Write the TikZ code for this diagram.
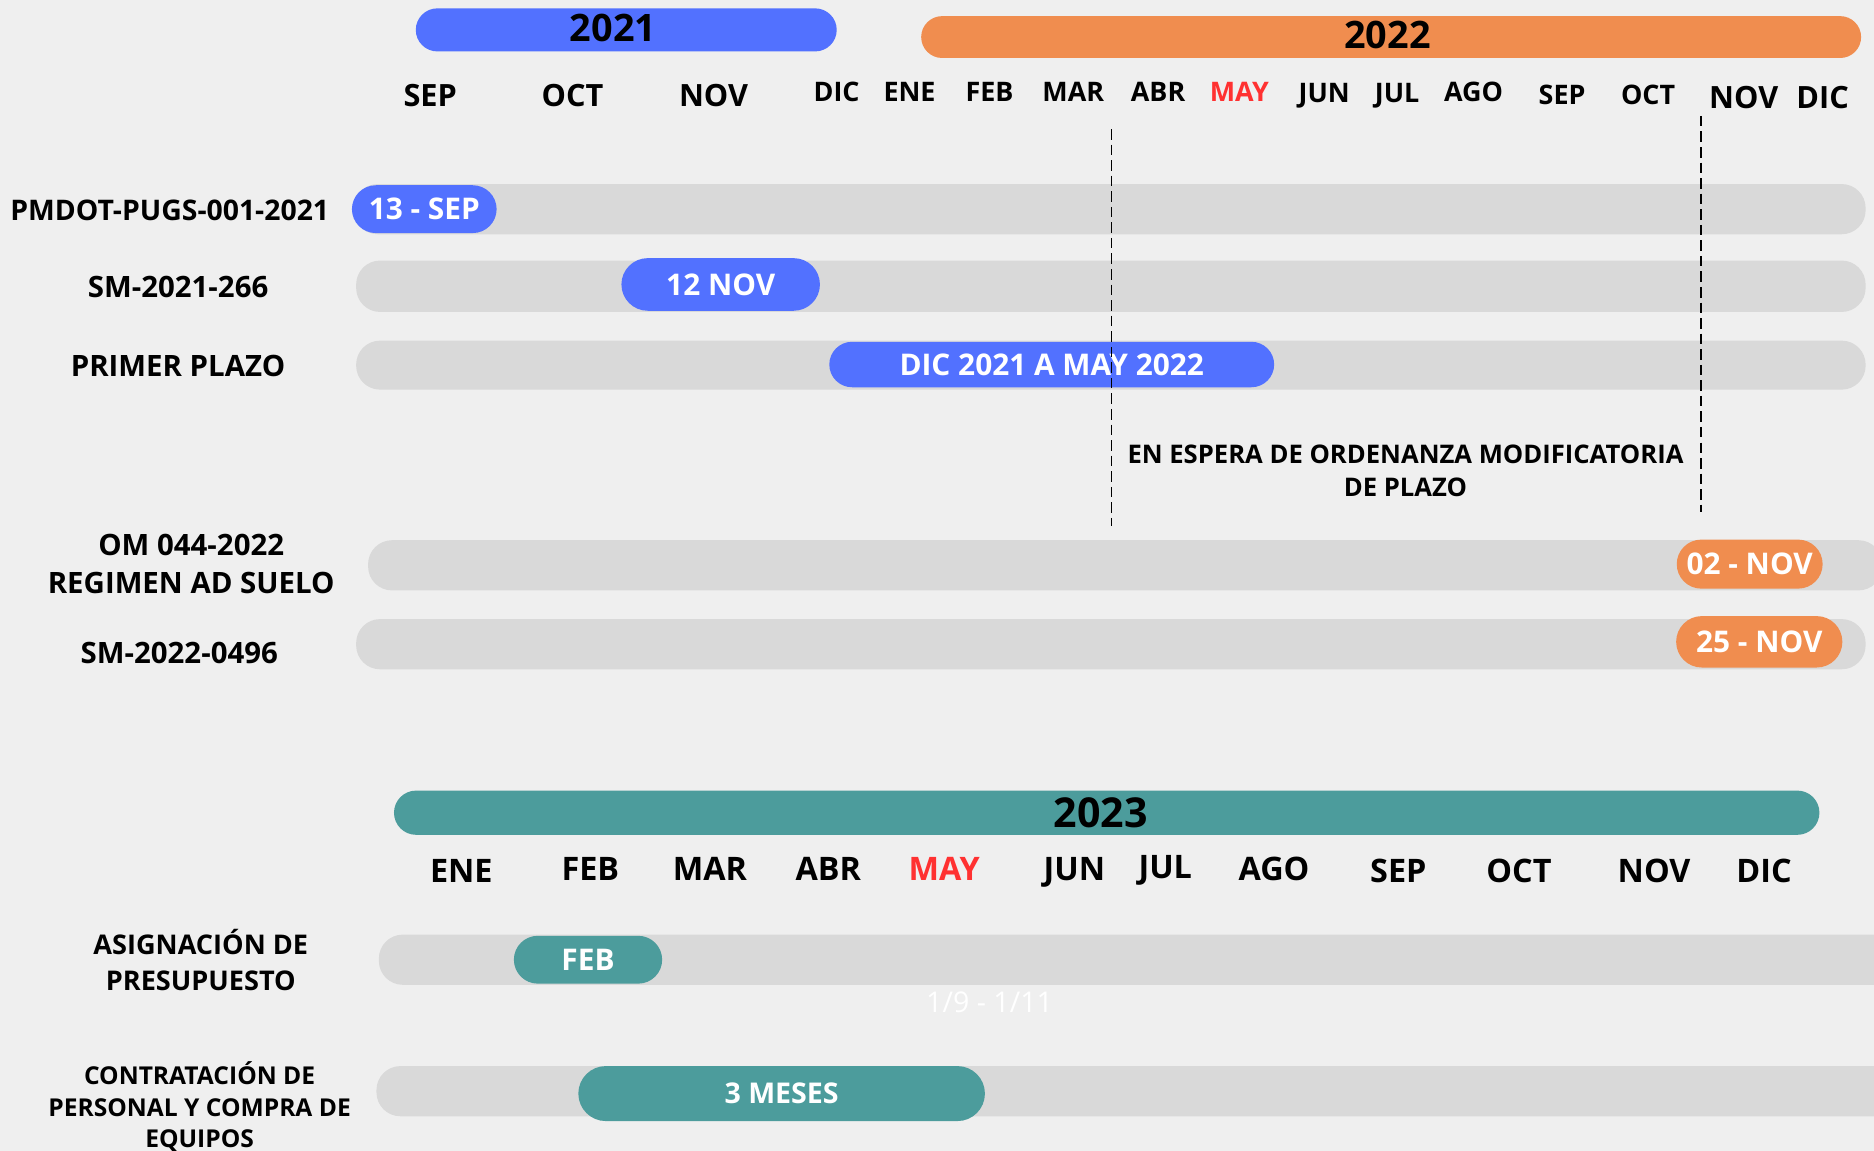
\documentclass[tikz,border=0pt]{standalone}
\usepackage{fontspec}
\setmainfont{Open Sans}
\usetikzlibrary{shapes.misc}

\definecolor{paper}{HTML}{EFEFEF}
\definecolor{yrblue}{HTML}{5271FF}
\definecolor{yrorange}{HTML}{F08D4F}
\definecolor{yrteal}{HTML}{4C9C9C}
\definecolor{trackgray}{HTML}{D9D9D9}
\definecolor{mayred}{HTML}{FF3131}

\tikzset{
  track/.style={fill=trackgray, rounded corners=0.2cm},
  pill/.style={rounded rectangle, inner sep=0pt, text=white, font=\bfseries\fontsize{7.1}{8}\selectfont},
  yearbar/.style={rounded rectangle, inner sep=0pt},
  yeartext/.style={font=\bfseries\fontsize{9}{10}\selectfont},
  month/.style={font=\bfseries\fontsize{6.4}{7}\selectfont},
  bigmonth/.style={font=\bfseries\fontsize{7.3}{8}\selectfont},
  rowlabel/.style={align=center, font=\bfseries\fontsize{7}{9.2}\selectfont},
  note/.style={align=center, font=\bfseries\fontsize{6.1}{8}\selectfont}
}

\begin{document}
\begin{tikzpicture}[x=0.01cm,y=-0.01cm]
\useasboundingbox (0,0) rectangle (1568,963);
\fill[paper] (0,0) rectangle (1568,963);

% Years
\node[yearbar, fill=yrblue, minimum width=3.52cm, minimum height=0.36cm] (y2021) at (524,25) {};
\node[yearbar, fill=yrorange, minimum width=7.86cm, minimum height=0.35cm] (y2022) at (1164,31) {};
\node[yearbar, fill=yrteal, minimum width=11.92cm, minimum height=0.37cm] (y2023) at (926,680) {};
\node[yeartext] (t2021) at (513,23) {2021};
\node[yeartext] (t2022) at (1161,29) {2022};
\node[yeartext, font=\bfseries\fontsize{9.8}{10}\selectfont] (t2023) at (921,680) {2023};

% Months 2021-2022
\foreach \x/\y/\m [count=\i] in {360/80/SEP,479/80/OCT,597/80/NOV,1459/82/NOV,1525/82/DIC}
  \node[bigmonth] (ma\i) at (\x,\y) {\m};
\foreach \x/\y/\m [count=\i] in {700/77/DIC,761/77/ENE,828/77/FEB,898/77/MAR,969/77/ABR,1108/80/JUN,1169/80/JUL,1233/77/AGO,1307/79/SEP,1379/79/OCT}
  \node[month] (mb\i) at (\x,\y) {\m};
\node[month, text=mayred] (mayA) at (1037,77) {MAY};

% Months 2023
\foreach \x/\y/\m [count=\i] in {386/729/ENE,494/727/FEB,594/727/MAR,693/727/ABR,899/730/JUN,975/728/JUL,1066/727/AGO,1170/729/SEP,1271/729/OCT,1384/729/NOV,1476/729/DIC}
  \node[bigmonth, font=\bfseries\fontsize{7.7}{8}\selectfont] (mc\i) at (\x,\y) {\m};
\node[bigmonth, font=\bfseries\fontsize{7.7}{8}\selectfont, text=mayred] (mayB) at (790,727) {MAY};

% Tracks
\begin{scope}
\clip (0,0) rectangle (1568,963);
\fill[track] (296,154) rectangle (1561,196);
\fill[track] (298,218) rectangle (1561,261);
\fill[track] (298,285) rectangle (1561,326);
\fill[track] (308,452) rectangle (1575,494);
\fill[track] (298,518) rectangle (1561,560);
\fill[track] (317,782) rectangle (1600,824);
\fill[track] (315,892) rectangle (1600,934);
\end{scope}

% Row labels
\node[rowlabel, font=\bfseries\fontsize{6.75}{8}\selectfont] (pmdot) at (142,176) {PMDOT-PUGS-001-2021};
\node[rowlabel] (sm266) at (149,240) {SM-2021-266};
\node[rowlabel] (plazo) at (149,306) {PRIMER PLAZO};
\node[rowlabel] (om044) at (160,472) {OM 044-2022\\REGIMEN AD SUELO};
\node[rowlabel] (sm0496) at (150,546) {SM-2022-0496};
\node[rowlabel, font=\bfseries\fontsize{6.45}{8.5}\selectfont] (presu) at (168,803) {ASIGNACIÓN DE\\PRESUPUESTO};
\node[rowlabel, font=\bfseries\fontsize{5.85}{7.5}\selectfont] (contra) at (167,926) {CONTRATACIÓN DE\\PERSONAL Y COMPRA DE\\EQUIPOS};

% Milestones
\node[pill, fill=yrblue, minimum width=1.21cm, minimum height=0.40cm] (sep13) at (355,175) {13 - SEP};
\node[pill, fill=yrblue, minimum width=1.66cm, minimum height=0.44cm] (nov12) at (603,238) {12 NOV};
\node[pill, fill=yrblue, minimum width=3.72cm, minimum height=0.38cm] (dicmay) at (880,305) {DIC 2021 A MAY 2022};
\node[pill, fill=yrorange, minimum width=1.22cm, minimum height=0.41cm] (nov02) at (1464,472) {02 - NOV};
\node[pill, fill=yrorange, minimum width=1.39cm, minimum height=0.43cm] (nov25) at (1472,537) {25 - NOV};
\node[pill, fill=yrteal, minimum width=1.24cm, minimum height=0.40cm] (feb) at (492,803) {FEB};
\node[pill, fill=yrteal, minimum width=3.40cm, minimum height=0.46cm, font=\bfseries\fontsize{6.8}{7}\selectfont] (meses) at (654,915) {3 MESES};
\node[pill, font=\fontsize{6.8}{7}\selectfont] (faint) at (828,839) {1/9 - 1/11};

% Waiting period
\coordinate (waitA) at (930,108);
\coordinate (waitB) at (930,440);
\coordinate (waitC) at (1423,97);
\coordinate (waitD) at (1423,428);
\draw[line width=0.45pt, dash pattern=on 2.5pt off 1.2pt] (waitA) -- (waitB);
\draw[line width=0.45pt, dash pattern=on 2.5pt off 1.2pt] (waitC) -- (waitD);
\node[note] (espera) at (1176,394) {EN ESPERA DE ORDENANZA MODIFICATORIA\\DE PLAZO};
\end{tikzpicture}
\end{document}
